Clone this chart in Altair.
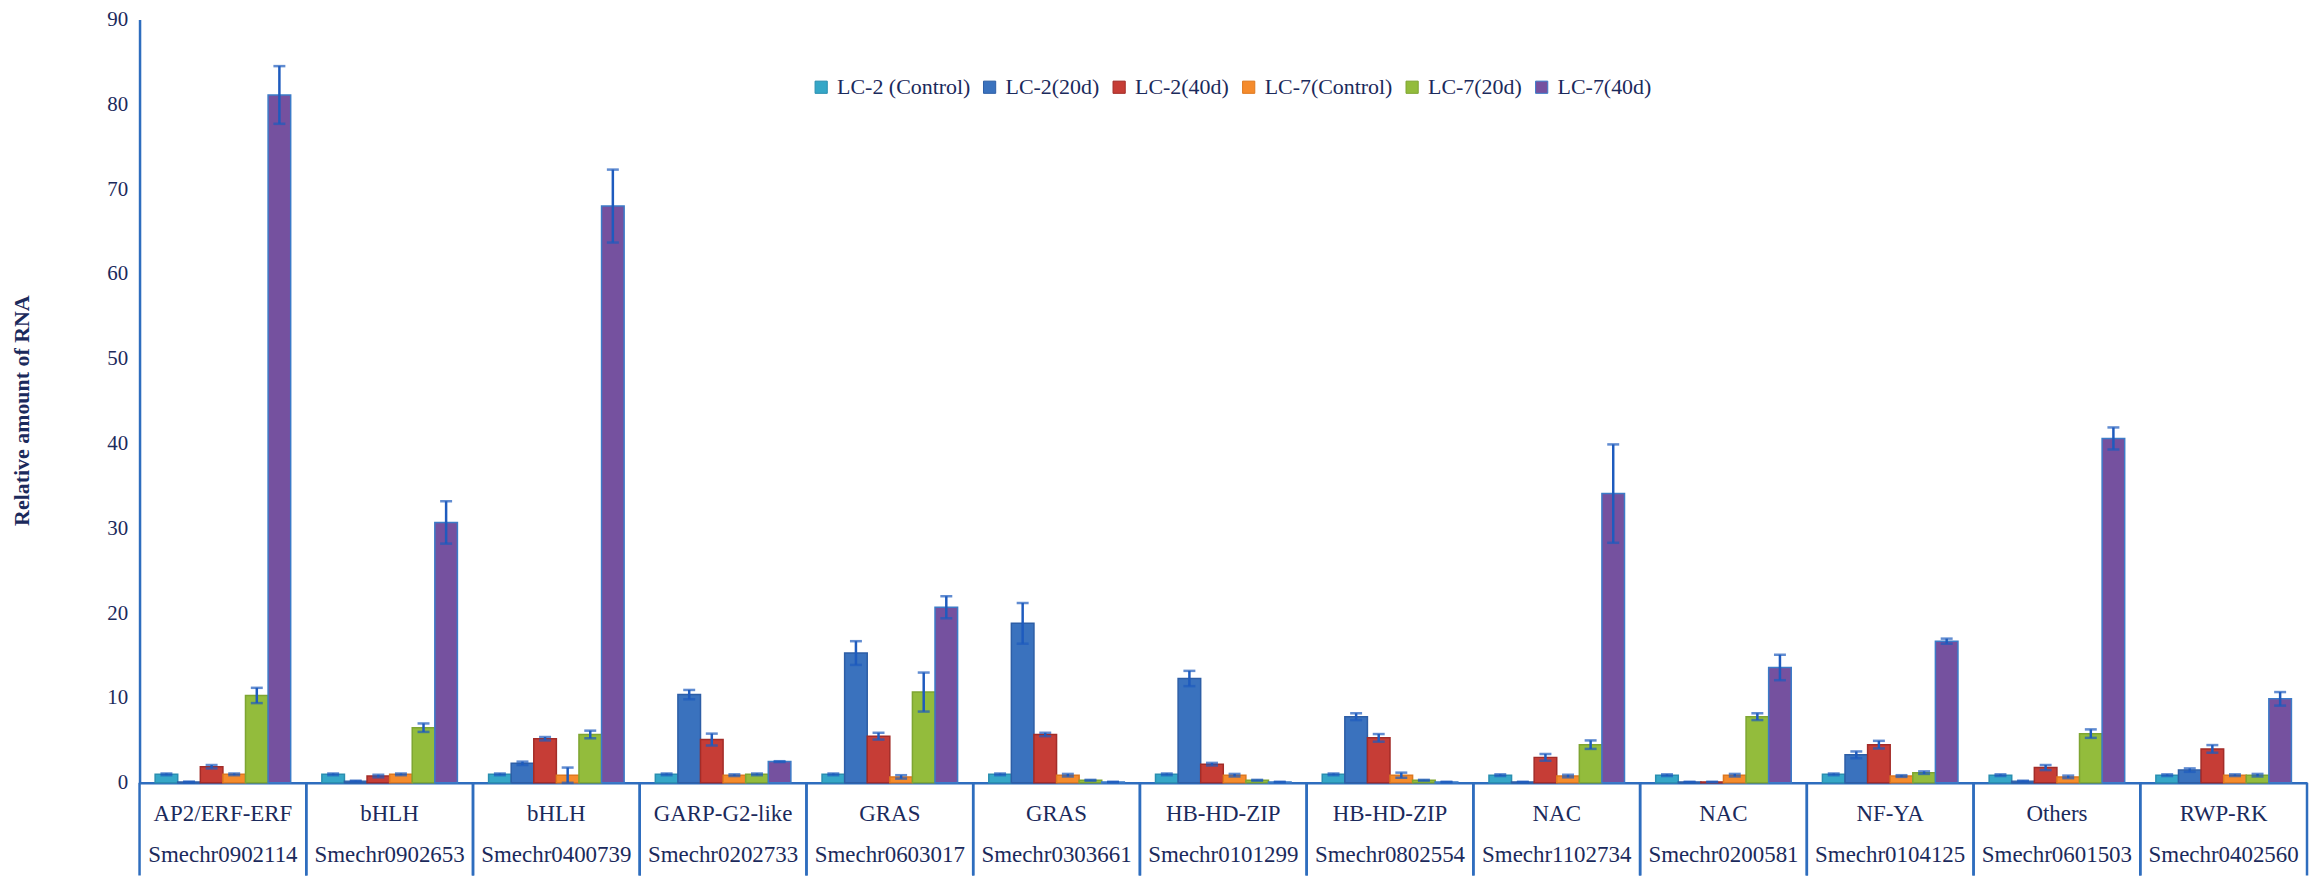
import altair as alt
import pandas as pd

families = ["AP2/ERF-ERF", "bHLH", "bHLH", "GARP-G2-like", "GRAS", "GRAS",
            "HB-HD-ZIP", "HB-HD-ZIP", "NAC", "NAC", "NF-YA", "Others", "RWP-RK"]
genes = ["Smechr0902114", "Smechr0902653", "Smechr0400739", "Smechr0202733",
         "Smechr0603017", "Smechr0303661", "Smechr0101299", "Smechr0802554",
         "Smechr1102734", "Smechr0200581", "Smechr0104125", "Smechr0601503",
         "Smechr0402560"]
series = ["LC-2 (Control)", "LC-2(20d)", "LC-2(40d)", "LC-7(Control)", "LC-7(20d)", "LC-7(40d)"]

lc2_control = [1.0, 1.0, 1.0, 1.0, 1.0, 1.0, 1.0, 1.0, 0.9, 0.9, 1.0, 0.9, 0.9]
lc2_20d     = [0.1, 0.2, 2.3, 10.4, 15.3, 18.8, 12.3, 7.8, 0.1, 0.1, 3.3, 0.2, 1.5]
lc2_40d     = [1.9, 0.8, 5.2, 5.1, 5.5, 5.7, 2.2, 5.3, 3.0, 0.1, 4.5, 1.8, 4.0]
lc7_control = [1.0, 1.0, 0.9, 0.9, 0.7, 0.9, 0.9, 0.9, 0.8, 0.9, 0.8, 0.7, 0.9]
lc7_20d     = [10.3, 6.5, 5.7, 1.0, 10.7, 0.3, 0.3, 0.3, 4.5, 7.8, 1.2, 5.8, 0.9]
lc7_40d     = [81.1, 30.7, 68.0, 2.5, 20.7, 0.1, 0.1, 0.1, 34.1, 13.6, 16.7, 40.6, 9.9]

err_lc2_control = [0.1, 0.1, 0.1, 0.1, 0.1, 0.1, 0.1, 0.1, 0.1, 0.1, 0.1, 0.1, 0.1]
err_lc2_20d     = [0.05, 0.05, 0.2, 0.55, 1.4, 2.4, 0.9, 0.4, 0.02, 0.02, 0.4, 0.05, 0.2]
err_lc2_40d     = [0.2, 0.15, 0.2, 0.7, 0.4, 0.2, 0.15, 0.45, 0.4, 0.02, 0.45, 0.3, 0.45]
err_lc7_control = [0.1, 0.1, 0.9, 0.1, 0.2, 0.15, 0.15, 0.3, 0.15, 0.15, 0.1, 0.15, 0.1]
err_lc7_20d     = [0.9, 0.5, 0.45, 0.1, 2.3, 0.05, 0.05, 0.05, 0.5, 0.4, 0.15, 0.5, 0.15]
err_lc7_40d     = [3.4, 2.5, 4.3, 0.05, 1.3, 0.02, 0.02, 0.02, 5.8, 1.5, 0.3, 1.3, 0.8]

values = [lc2_control, lc2_20d, lc2_40d, lc7_control, lc7_20d, lc7_40d]
errors = [err_lc2_control, err_lc2_20d, err_lc2_40d, err_lc7_control, err_lc7_20d, err_lc7_40d]

fills = ["#35A7C7", "#3A72BE", "#C63D36", "#F58B2C", "#93BC3C", "#75519F"]
strokes = ["#2A8FB0", "#2D5EA6", "#A32C28", "#DE781F", "#7EA532", "#3C7BC8"]

rows = []
for i, g in enumerate(genes):
    for s, vals, errs in zip(series, values, errors):
        rows.append(dict(gene=g, family=families[i], series=s, value=vals[i],
                         lo=vals[i] - errs[i], hi=vals[i] + errs[i]))
df = pd.DataFrame(rows)
cats = pd.DataFrame({"gene": genes, "family": families})

W, H = 2175, 766
BLUE = "#2E6DBE"
ERR = "#1E5BBE"
NAVY = "#1B2A5C"
FONT = "Liberation Serif"

xscale = alt.Scale(domain=genes, paddingInner=0, paddingOuter=0)
xaxis = alt.Axis(labels=False, ticks=False, title=None, domainColor=BLUE, domainWidth=2.5)
x = alt.X("gene:N", scale=xscale, sort=genes, axis=xaxis)
xoff = alt.XOffset("series:N", sort=series,
                   scale=alt.Scale(domain=series, paddingInner=0, paddingOuter=0.69))
yscale = alt.Scale(domain=[0, 90], nice=False, zero=True)
yaxis = alt.Axis(values=list(range(0, 91, 10)), ticks=False, grid=False,
                 domainColor=BLUE, domainWidth=2.5,
                 labelFont=FONT, labelFontSize=21, labelColor=NAVY, labelPadding=12,
                 title="Relative amount of RNA", titleFont=FONT, titleFontSize=22,
                 titleFontWeight="bold", titleColor=NAVY, titleX=-118, titleY=392,
                 titleAngle=270, titleAlign="center", titleBaseline="middle")

bars = alt.Chart(df).mark_bar(strokeWidth=1.5).encode(
    x=x,
    xOffset=xoff,
    y=alt.Y("value:Q", scale=yscale, axis=yaxis),
    color=alt.Color("series:N", sort=series,
                    scale=alt.Scale(domain=series, range=fills),
                    legend=alt.Legend(orient="none", legendX=673, legendY=57, direction="horizontal",
                                      columns=6, title=None, symbolType="square", symbolSize=150,
                                      symbolStrokeWidth=1, labelFont=FONT, labelFontSize=22,
                                      labelColor=NAVY, labelOffset=5, columnPadding=8)),
    stroke=alt.Stroke("series:N", sort=series,
                      scale=alt.Scale(domain=series, range=strokes), legend=None),
)

err_rule = alt.Chart(df).mark_rule(color=ERR, strokeWidth=2.5).encode(
    x=x, xOffset=xoff,
    y=alt.Y("lo:Q", scale=yscale, axis=yaxis),
    y2="hi:Q",
)
cap_hi = alt.Chart(df).mark_tick(color=ERR, thickness=2.5, size=12, orient="horizontal").encode(
    x=x, xOffset=xoff, y=alt.Y("hi:Q", scale=yscale, axis=yaxis))
cap_lo = alt.Chart(df).mark_tick(color=ERR, thickness=2.5, size=12, orient="horizontal").encode(
    x=x, xOffset=xoff, y=alt.Y("lo:Q", scale=yscale, axis=yaxis))

div_left = alt.Chart(cats).mark_rule(color=BLUE, strokeWidth=2.5).encode(
    x=alt.X("gene:N", scale=xscale, sort=genes, axis=xaxis, bandPosition=0),
    y=alt.value(H), y2=alt.value(H + 93))
div_right = alt.Chart(cats).mark_rule(color=BLUE, strokeWidth=2.5).encode(
    x=alt.X("gene:N", scale=xscale, sort=genes, axis=xaxis, bandPosition=1),
    y=alt.value(H), y2=alt.value(H + 93))

fam_text = alt.Chart(cats).mark_text(font=FONT, fontSize=23, color=NAVY, baseline="middle").encode(
    x=x, y=alt.value(H + 31), text="family:N")
gene_text = alt.Chart(cats).mark_text(font=FONT, fontSize=23, color=NAVY, baseline="middle").encode(
    x=x, y=alt.value(H + 72), text="gene:N")

chart = alt.layer(bars, err_rule, cap_hi, cap_lo, div_left, div_right, fam_text, gene_text).properties(
    width=W, height=H,
    autosize=alt.AutoSizeParams(type="none"),
    padding={"left": 132, "top": 10, "right": 5, "bottom": 95},
    background="white",
).configure_view(stroke=None)

chart.save("out.html", embed_options={"renderer": "svg", "actions": False})
